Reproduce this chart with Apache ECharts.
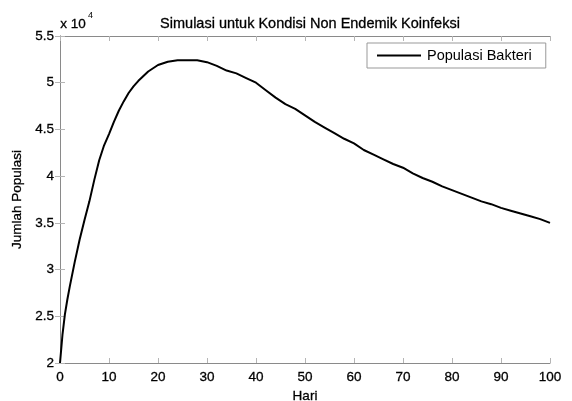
<!DOCTYPE html>
<html>
<head>
<meta charset="utf-8">
<script src="https://cdn.jsdelivr.net/npm/echarts@6/dist/echarts.min.js"></script>
<style>
  html, body { margin: 0; padding: 0; background: #fff; }
  #chart { width: 572px; height: 401px; }
</style>
</head>
<body>
<div id="chart"></div>
<script>
// values, population in units of 10^4
const days = [0, 0.5, 1, 1.5, 2, 3, 4, 5, 6, 7, 8, 9, 10, 11, 12, 13, 14, 15, 16, 18,
  20, 22, 24, 26, 28, 30, 32, 34, 36, 38, 40, 42, 44, 46, 48, 50, 52, 54, 56, 58,
  60, 62, 64, 66, 68, 70, 72, 74, 76, 78, 80, 82, 84, 86, 88, 90, 92, 94, 96, 98, 100]
const bakteri = [2.00, 2.30, 2.52, 2.68, 2.82, 3.08, 3.32, 3.53, 3.73, 3.96, 4.17, 4.33, 4.45, 4.58, 4.70, 4.80, 4.89, 4.96, 5.02, 5.12,
  5.19, 5.225, 5.24, 5.24, 5.24, 5.22, 5.18, 5.13, 5.10, 5.05, 5.00, 4.92, 4.84, 4.77, 4.72, 4.65, 4.58, 4.52, 4.46, 4.40,
  4.35, 4.28, 4.23, 4.18, 4.13, 4.09, 4.03, 3.98, 3.94, 3.89, 3.85, 3.81, 3.77, 3.73, 3.70, 3.66, 3.63, 3.60, 3.57, 3.54, 3.50]
const xTicks = [0, 10, 20, 30, 40, 50, 60, 70, 80, 90, 100]
const yTicks = [2, 2.5, 3, 3.5, 4, 4.5, 5, 5.5]

const font = 'Liberation Sans, Arial, sans-serif'
const axisColor = '#8a8a8a'
// slight outline so the text looks as heavy as the original
const heavy = { color: '#000', textBorderColor: '#000', textBorderWidth: 0.3 }

const chart = echarts.init(document.getElementById('chart'), null, { renderer: 'canvas' })

const boxAxis = {
  axisLine: { show: true, lineStyle: { color: axisColor, width: 1 } },
  axisTick: { show: true, inside: true, length: 5, lineStyle: { color: '#b5b5b5' } },
  splitLine: { show: false },
}

chart.setOption({
  animation: false,
  title: {
    text: 'Simulasi untuk Kondisi Non Endemik Koinfeksi',
    left: 305,
    textAlign: 'center',
    top: 11,
    textStyle: { fontFamily: font, fontSize: 14.5, fontWeight: 'normal', ...heavy },
  },
  legend: {
    left: 367,
    top: 43,
    orient: 'vertical',
    itemWidth: 44,
    itemHeight: 2,
    itemGap: 0,
    padding: [5, 14, 5, 10],
    borderColor: '#999',
    borderWidth: 1,
    borderRadius: 0,
    textStyle: { fontFamily: font, fontSize: 14.5, color: '#000', padding: [0, 0, 0, 1] },
    data: [{ name: 'Populasi Bakteri', icon: 'rect' }],
  },
  grid: { left: 60, right: 22, top: 36, bottom: 38, outerBoundsMode: 'none' },
  xAxis: [
    {
      ...boxAxis,
      type: 'value',
      min: xTicks[0],
      max: xTicks[xTicks.length - 1],
      interval: 10,
      name: 'Hari',
      nameLocation: 'middle',
      nameGap: 26,
      nameTextStyle: { fontFamily: font, fontSize: 13.5, ...heavy },
      axisLabel: { fontFamily: font, fontSize: 13.5, margin: 7, ...heavy },
    },
    {
      ...boxAxis,
      type: 'value',
      position: 'top',
      min: xTicks[0],
      max: xTicks[xTicks.length - 1],
      interval: 10,
      axisLabel: { show: false },
    },
  ],
  yAxis: [
    {
      ...boxAxis,
      type: 'value',
      min: yTicks[0],
      max: yTicks[yTicks.length - 1],
      interval: 0.5,
      name: 'Jumlah Populasi',
      nameLocation: 'middle',
      nameGap: 31,
      nameTextStyle: { fontFamily: font, fontSize: 13.5, ...heavy },
      axisLabel: { fontFamily: font, fontSize: 13.5, margin: 6, ...heavy },
    },
    {
      ...boxAxis,
      type: 'value',
      position: 'right',
      min: yTicks[0],
      max: yTicks[yTicks.length - 1],
      interval: 0.5,
      axisLabel: { show: false },
    },
  ],
  graphic: [
    {
      type: 'text',
      left: 60,
      top: 17,
      style: { text: 'x 10', font: '13.5px ' + font, fill: '#000', stroke: '#000', lineWidth: 0.3 },
    },
    {
      type: 'text',
      left: 88,
      top: 11,
      style: { text: '4', font: '9px ' + font, fill: '#000' },
    },
  ],
  series: [
    {
      name: 'Populasi Bakteri',
      type: 'line',
      xAxisIndex: 0,
      yAxisIndex: 0,
      showSymbol: false,
      symbol: 'none',
      lineStyle: { color: '#000', width: 2 },
      itemStyle: { color: '#000' },
      data: days.map((d, i) => [d, bakteri[i]]),
    },
  ],
})
</script>
</body>
</html>
